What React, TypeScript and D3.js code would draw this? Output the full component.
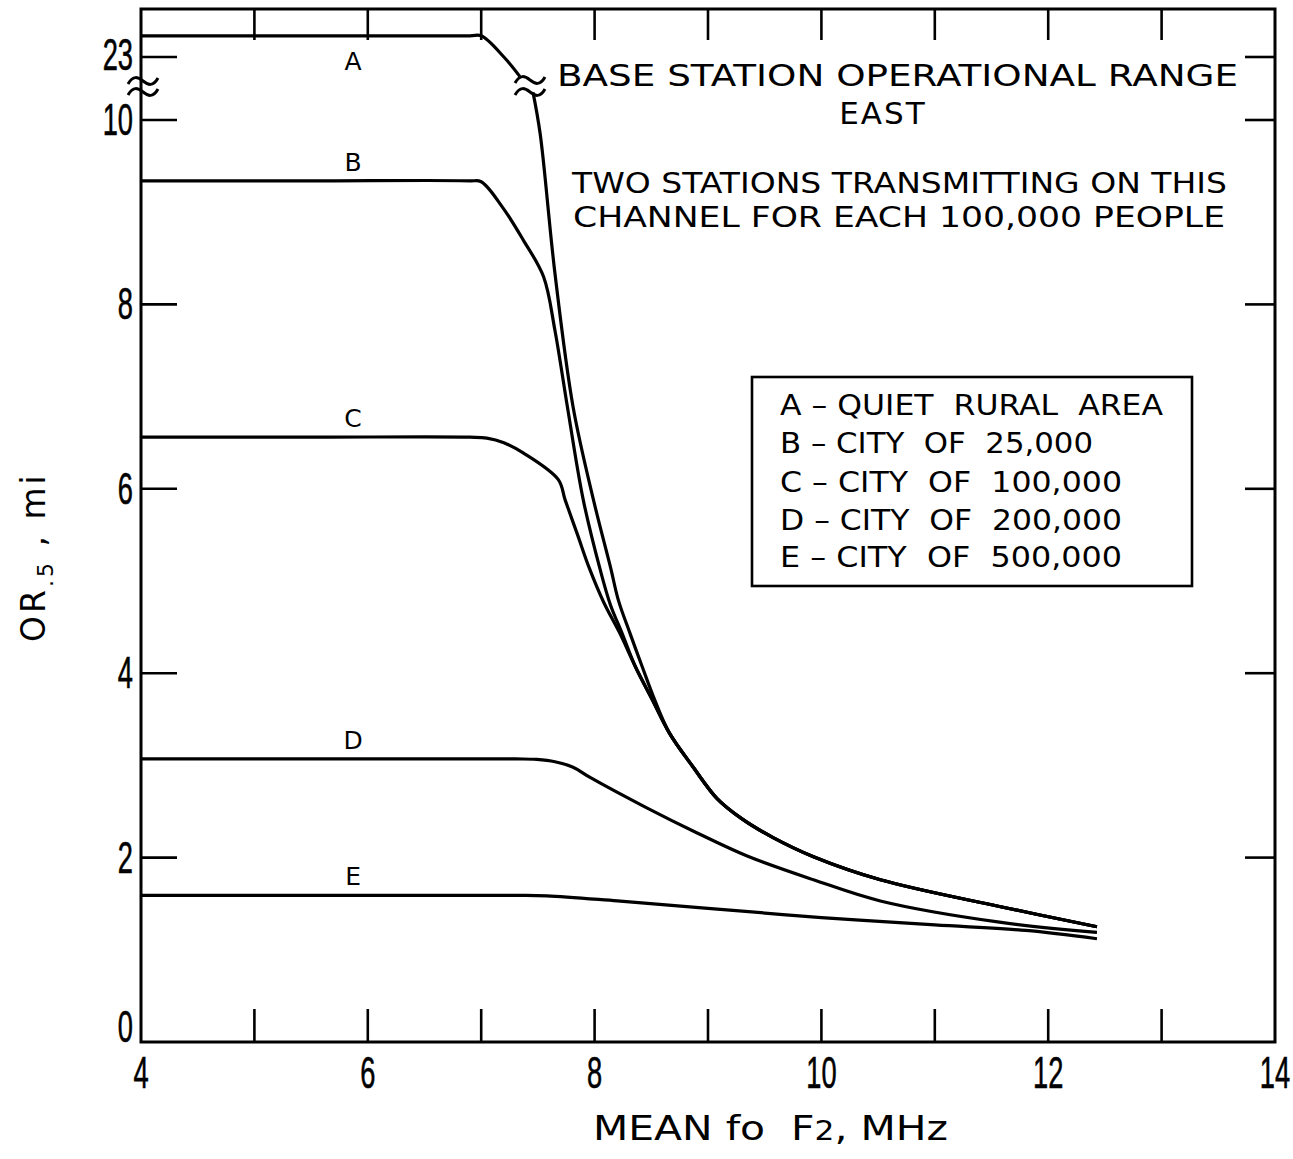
import React from 'react';
import * as d3 from 'd3';

type P = [number, number];

// ---- tick values ----
const xTicks = [5, 6, 7, 8, 9, 10, 11, 12, 13];
const xTickLabels = [4, 6, 8, 10, 12, 14];
const yTicks = [2, 4, 6, 8, 10];
const yTickLabels = [0, 2, 4, 6, 8, 10];
const yBreakValue = 23;

// ---- series (MHz, miles) ----
const seriesAHigh: P[] = [[4, 23.23], [5.5, 23.23], [6.9, 23.23], [7.0, 23.23], [7.2, 23.0], [7.34, 22.79]];
const seriesALow: P[] = [
  [7.457, 10.3], [7.52, 9.85], [7.65, 8.34], [7.81, 6.89], [7.99, 5.88], [8.14, 5.15],
  [8.21, 4.79], [8.31, 4.44], [8.42, 4.07], [8.53, 3.71], [8.66, 3.35], [8.87, 2.98],
  [9.08, 2.64], [9.3, 2.42], [9.57, 2.22], [9.93, 2.01], [10.52, 1.76], [11.57, 1.47], [12.43, 1.25],
];
const seriesB: P[] = [
  [4, 9.34], [5.5, 9.34], [6.9, 9.34], [7.0, 9.33], [7.19, 9.05], [7.37, 8.7], [7.55, 8.3], [7.65, 7.72], [7.76, 6.89],
  [7.9, 5.88], [8.05, 5.12], [8.14, 4.74], [8.24, 4.44], [8.36, 4.07], [8.51, 3.71], [8.66, 3.35],
  [8.87, 2.98], [9.08, 2.64], [9.3, 2.42], [9.57, 2.22], [9.93, 2.01], [10.52, 1.76], [11.57, 1.47], [12.43, 1.25],
];
const seriesC: P[] = [
  [4, 6.56], [5.5, 6.56], [6.9, 6.56], [7.05, 6.55], [7.2, 6.5], [7.37, 6.39], [7.68, 6.1], [7.74, 5.88], [7.85, 5.5],
  [7.95, 5.15], [8.08, 4.77], [8.22, 4.44], [8.36, 4.07], [8.51, 3.71], [8.66, 3.35], [8.87, 2.98],
  [9.08, 2.64], [9.3, 2.42], [9.57, 2.22], [9.93, 2.01], [10.52, 1.76], [11.57, 1.47], [12.43, 1.25],
];
const seriesD: P[] = [
  [4, 3.07], [5.5, 3.07], [7.3, 3.07], [7.49, 3.065], [7.65, 3.04], [7.81, 2.98], [7.96, 2.87], [8.46, 2.54], [8.9, 2.27],
  [9.34, 2.02], [9.93, 1.76], [10.52, 1.53], [11.57, 1.3], [12.43, 1.19],
];
const seriesE: P[] = [
  [4, 1.59], [5.5, 1.59], [7.3, 1.59], [7.58, 1.585], [8.2, 1.53], [9.0, 1.45], [10.0, 1.35], [11.0, 1.27], [11.8, 1.21], [12.43, 1.12],
];
const curveLetters = ['A', 'B', 'C', 'D', 'E'];
const legendItems = [
  'A – QUIET  RURAL  AREA',
  'B – CITY  OF  25,000',
  'C – CITY  OF  100,000',
  'D – CITY  OF  200,000',
  'E – CITY  OF  500,000',
];

const W = 1293, H = 1159;
const left = 141, right = 1275, top = 9, bottom = 1042;

export default function App() {
  const x = d3.scaleLinear().domain([4, 14]).range([left, right]);
  const yLow = d3.scaleLinear().domain([0, 10]).range([bottom, 120]);
  const unit = (bottom - 120) / 10;
  const yHigh = d3.scaleLinear().domain([23, 24]).range([57, 57 - unit]);

  const curve = d3.curveCatmullRom.alpha(0.5);
  const lineLow = d3.line<P>().x(d => x(d[0])).y(d => yLow(d[1])).curve(curve);
  const lineHigh = d3.line<P>().x(d => x(d[0])).y(d => yHigh(d[1])).curve(curve);

  const font = '"DejaVu Sans", "Liberation Sans", sans-serif';
  const numFont = '"Liberation Sans", "DejaVu Sans", sans-serif';

  const tilde = (cx: number, cy: number) =>
    `M${cx - 15},${cy + 3} C${cx - 10},${cy - 6} ${cx - 5},${cy - 4} ${cx},${cy} C${cx + 5},${cy + 4} ${cx + 10},${cy + 6} ${cx + 15},${cy - 3}`;

  const lowSeries = [seriesB, seriesC, seriesD, seriesE];
  const flatVals = [seriesAHigh[0][1], seriesB[0][1], seriesC[0][1], seriesD[0][1], seriesE[0][1]];

  const stroke = '#000';
  const lw = 3.2;

  return (
    <svg width={W} height={H} style={{ position: 'absolute', left: 0, top: 0, background: '#fff' }}>
      <rect x={0} y={0} width={W} height={H} fill="#fff" />
      {/* frame */}
      <rect x={left} y={top} width={right - left} height={bottom - top} fill="none" stroke={stroke} strokeWidth={3} />
      {/* x ticks bottom & top */}
      {xTicks.map(t => (
        <g key={'xt' + t}>
          <line x1={x(t)} x2={x(t)} y1={bottom} y2={bottom - 33} stroke={stroke} strokeWidth={2.6} />
          <line x1={x(t)} x2={x(t)} y1={top} y2={top + 31} stroke={stroke} strokeWidth={2.6} />
        </g>
      ))}
      {/* y ticks left & right */}
      {yTicks.map(t => (
        <g key={'yt' + t}>
          <line x1={left} x2={left + 36} y1={yLow(t)} y2={yLow(t)} stroke={stroke} strokeWidth={2.6} />
          <line x1={right} x2={right - 30} y1={yLow(t)} y2={yLow(t)} stroke={stroke} strokeWidth={2.6} />
        </g>
      ))}
      <line x1={left} x2={left + 36} y1={yHigh(yBreakValue)} y2={yHigh(yBreakValue)} stroke={stroke} strokeWidth={2.6} />
      <line x1={right} x2={right - 30} y1={yHigh(yBreakValue)} y2={yHigh(yBreakValue)} stroke={stroke} strokeWidth={2.6} />

      {/* x tick labels */}
      {xTickLabels.map(t => (
        <text key={'xl' + t} transform={`translate(${x(t)},1088) scale(0.62,1)`} textAnchor="middle"
          fontFamily={numFont} fontSize={44} fill={stroke} stroke={stroke} strokeWidth={0.6}>{t}</text>
      ))}
      {/* y tick labels */}
      {yTickLabels.map(t => (
        <text key={'yl' + t} transform={`translate(133,${t === 0 ? bottom : yLow(t) + 15}) scale(0.62,1)`} textAnchor="end"
          fontFamily={numFont} fontSize={44} fill={stroke} stroke={stroke} strokeWidth={0.6}>{t}</text>
      ))}
      <text transform={`translate(133,${yHigh(yBreakValue) + 13}) scale(0.62,1)`} textAnchor="end"
        fontFamily={numFont} fontSize={44} fill={stroke} stroke={stroke} strokeWidth={0.6}>{yBreakValue}</text>

      {/* axis break on y axis */}
      <path d={tilde(143, 81)} fill="none" stroke={stroke} strokeWidth={3} />
      <path d={tilde(143, 92)} fill="none" stroke={stroke} strokeWidth={3} />

      {/* curves */}
      <path d={lineHigh(seriesAHigh) || ''} fill="none" stroke={stroke} strokeWidth={lw} />
      <path d={lineLow(seriesALow) || ''} fill="none" stroke={stroke} strokeWidth={lw} />
      {lowSeries.map((s, i) => (
        <path key={'s' + i} d={lineLow(s) || ''} fill="none" stroke={stroke} strokeWidth={lw} />
      ))}
      {/* break on curve A */}
      <path d={tilde(530, 80)} fill="none" stroke={stroke} strokeWidth={3} />
      <path d={tilde(530, 92)} fill="none" stroke={stroke} strokeWidth={3} />

      {/* curve letters */}
      {curveLetters.map((c, i) => {
        const yy = i === 0 ? yHigh(flatVals[0]) + 34 : yLow(flatVals[i]) - 10;
        return (
          <text key={'cl' + c} x={x(5.87)} y={yy} textAnchor="middle" fontFamily={font} fontSize={25} fill={stroke}>{c}</text>
        );
      })}

      {/* title block */}
      <text x={557} y={86} textLength={681} lengthAdjust="spacingAndGlyphs" fontFamily={font} fontSize={31} fill={stroke}>BASE STATION OPERATIONAL RANGE</text>
      <text x={883} y={124} textAnchor="middle" fontFamily={font} fontSize={31} fill={stroke} letterSpacing={2}>EAST</text>
      <text x={572} y={193} textLength={655} lengthAdjust="spacingAndGlyphs" fontFamily={font} fontSize={29} fill={stroke}>TWO STATIONS TRANSMITTING ON THIS</text>
      <text x={573} y={227} textLength={652} lengthAdjust="spacingAndGlyphs" fontFamily={font} fontSize={29} fill={stroke}>CHANNEL FOR EACH 100,000 PEOPLE</text>

      {/* legend */}
      <rect x={752} y={377} width={440} height={209} fill="#fff" stroke={stroke} strokeWidth={2.6} />
      {legendItems.map((t, i) => {
        const ends = [1163, 1093, 1122, 1122, 1122];
        const bases = [415, 453, 492, 530, 567];
        return (
          <text key={'lg' + i} x={780} y={bases[i]} textLength={ends[i] - 780} lengthAdjust="spacingAndGlyphs"
            fontFamily={font} fontSize={29} fill={stroke} style={{ whiteSpace: 'pre' }}>{t}</text>
        );
      })}

      {/* axis titles */}
      <text x={593} y={1140} textLength={355} lengthAdjust="spacingAndGlyphs" fontFamily={font} fontSize={34} fill={stroke} style={{ whiteSpace: 'pre' }}>
        MEAN f<tspan>o</tspan>{'  '}F<tspan fontSize={26}>2</tspan>, MHz
      </text>
      <text transform="translate(45,642) rotate(-90)" fontFamily={font} fontSize={33} fill={stroke} letterSpacing={3} style={{ whiteSpace: 'pre' }}>
        OR<tspan fontSize={22} dy={8}>.5</tspan><tspan dy={-8}> , mi</tspan>
      </text>
    </svg>
  );
}
